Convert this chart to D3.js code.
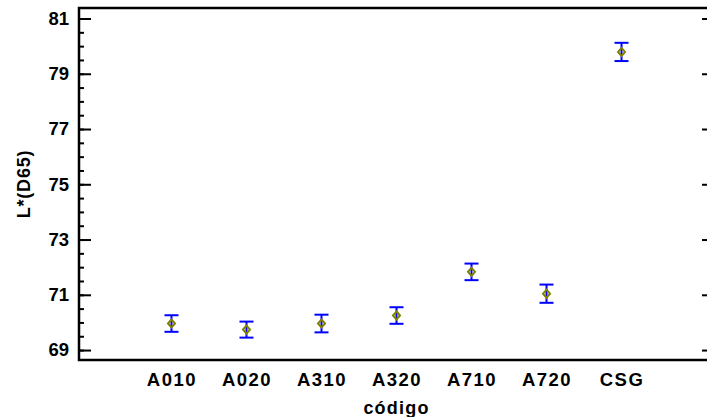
<!DOCTYPE html>
<html>
<head>
<meta charset="utf-8">
<script src="https://cdn.jsdelivr.net/npm/d3@7"></script>
<style>
    body { margin: 0; background: #fff; }
    svg { display: block; font-family: "Liberation Sans", Arial, sans-serif; font-weight: bold; }
</style>
</head>
<body>
<svg id="chart" width="707" height="417"></svg>
<script>
// data
const categories = ["A010", "A020", "A310", "A320", "A710", "A720", "CSG"];
const means = [69.96, 69.74, 69.96, 70.25, 71.83, 71.04, 79.79];
const halfWidths = [0.30, 0.29, 0.32, 0.30, 0.30, 0.33, 0.33];
const majorTicks = [69, 71, 73, 75, 77, 79, 81];
const minorTicks = d3.range(69, 81.01, 0.5);

let svg = d3.select("#chart");
let plotLeft = 79, plotRight = 714, plotTop = 8, plotBottom = 360;

let x = d3.scalePoint()
    .domain(categories)
    .range([plotLeft, plotRight])
    .padding(1.233);

let y = d3.scaleLinear()
    .domain([68.64, 81.38])
    .range([plotBottom, plotTop]);

let rows = categories.map(function(c, i){
    return {key: c, mean: means[i], half: halfWidths[i]};
});

// left axis, major ticks with labels
let leftMajor = svg.append("g")
    .attr("transform", "translate(" + plotLeft + ",0)")
    .call(d3.axisLeft(y).tickValues(majorTicks).tickSize(-12).tickPadding(10).tickFormat(d3.format("d")));
leftMajor.select(".domain").remove();
leftMajor.selectAll("line").attr("stroke", "#000").attr("stroke-width", 2);
leftMajor.selectAll("text")
    .attr("font-size", 18.5)
    .attr("font-family", "Liberation Sans, Arial, sans-serif")
    .attr("font-weight", "bold")
    .attr("fill", "#000");

// left axis, minor ticks
let leftMinor = svg.append("g")
    .attr("transform", "translate(" + plotLeft + ",0)")
    .call(d3.axisLeft(y).tickValues(minorTicks).tickSize(-5).tickFormat(""));
leftMinor.select(".domain").remove();
leftMinor.selectAll("line").attr("stroke", "#000").attr("stroke-width", 2);

// right axis (mostly off canvas)
let rightMajor = svg.append("g")
    .attr("transform", "translate(" + plotRight + ",0)")
    .call(d3.axisRight(y).tickValues(majorTicks).tickSize(-12).tickFormat(""));
rightMajor.select(".domain").remove();
rightMajor.selectAll("line").attr("stroke", "#000").attr("stroke-width", 2);

// bottom axis labels
let xAxis = svg.append("g")
    .attr("transform", "translate(0," + plotBottom + ")")
    .call(d3.axisBottom(x).tickSize(0).tickPadding(13));
xAxis.select(".domain").remove();
xAxis.selectAll("text")
    .attr("font-size", 18.5)
    .attr("font-family", "Liberation Sans, Arial, sans-serif")
    .attr("font-weight", "bold")
    .attr("letter-spacing", 1.5)
    .attr("fill", "#000");

// frame
svg.append("path")
    .attr("d", "M" + plotRight + "," + plotTop + "H" + plotLeft + "V" + plotBottom + "H" + plotRight)
    .attr("fill", "none")
    .attr("stroke", "#000")
    .attr("stroke-width", 2.5);

// error bars
let bars = svg.selectAll(".bar")
    .data(rows)
    .enter()
    .append("g")
    .attr("class", "bar")
    .attr("transform", d => "translate(" + x(d.key) + ",0)");

bars.append("line")
    .attr("y1", d => y(d.mean - d.half))
    .attr("y2", d => y(d.mean + d.half))
    .attr("stroke", "#0000ff")
    .attr("stroke-width", 2);

bars.selectAll(".cap")
    .data(d => [d.mean - d.half, d.mean + d.half])
    .enter()
    .append("line")
    .attr("class", "cap")
    .attr("x1", -7)
    .attr("x2", 7)
    .attr("y1", v => y(v))
    .attr("y2", v => y(v))
    .attr("stroke", "#0000ff")
    .attr("stroke-width", 2);

bars.append("path")
    .attr("d", "M0,-4L3.5,0L0,4L-3.5,0Z")
    .attr("transform", d => "translate(0," + y(d.mean) + ")")
    .attr("fill", "none")
    .attr("stroke", "#808000")
    .attr("stroke-width", 2);

// axis titles
svg.append("text")
    .attr("x", (plotLeft + plotRight) / 2)
    .attr("y", 414)
    .attr("text-anchor", "middle")
    .attr("font-size", 18)
    .attr("letter-spacing", 1.2)
    .text("código");

svg.append("text")
    .attr("transform", "translate(30," + (plotTop + plotBottom) / 2 + ") rotate(-90)")
    .attr("text-anchor", "middle")
    .attr("font-size", 18)
    .attr("letter-spacing", 0.8)
    .text("L*(D65)");
</script>
</body>
</html>
